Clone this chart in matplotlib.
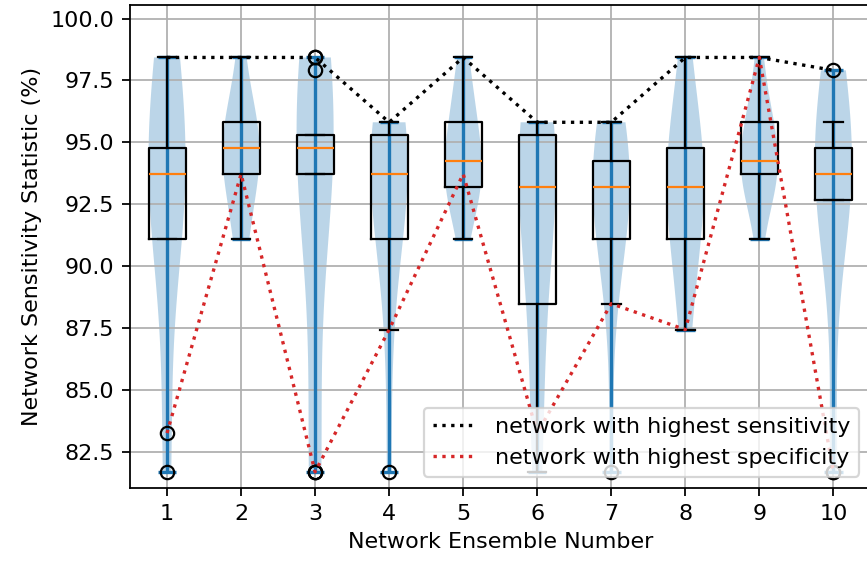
import numpy as np
import matplotlib
matplotlib.use("Agg")
import matplotlib.pyplot as plt

# sensitivity (%) of each network in the ten ensembles
ens_1 = [81.68, 83.25, 91.10, 91.10, 92.67, 93.19, 93.72, 94.24, 94.76, 94.76, 97.91, 98.43, 98.43]
ens_2 = [91.10, 91.10, 92.67, 93.72, 93.72, 93.72, 94.76, 94.76, 95.29, 95.81, 95.81, 96.86, 98.43]
ens_3 = [81.68, 81.68, 81.68, 93.72, 93.72, 94.24, 94.76, 94.76, 95.29, 95.29, 97.91, 98.43, 98.43]
ens_4 = [81.68, 87.43, 91.10, 91.10, 92.67, 93.19, 93.72, 94.24, 94.76, 95.29, 95.81, 95.81, 95.81]
ens_5 = [91.10, 92.67, 93.19, 93.19, 93.19, 93.72, 94.24, 94.76, 95.29, 95.81, 96.34, 97.38, 98.43]
ens_6 = [81.68, 83.25, 87.43, 88.48, 91.10, 92.67, 93.19, 93.72, 94.76, 95.29, 95.29, 95.81, 95.81]
ens_7 = [81.68, 88.48, 91.10, 91.10, 92.15, 92.67, 93.19, 93.72, 94.24, 94.24, 94.76, 95.29, 95.81]
ens_8 = [87.43, 88.48, 90.58, 91.10, 92.15, 92.67, 93.19, 93.72, 94.24, 94.76, 95.81, 96.86, 98.43]
ens_9 = [91.10, 92.67, 93.19, 93.72, 93.72, 93.72, 94.24, 94.76, 95.29, 95.81, 95.81, 96.86, 98.43]
ens_10 = [81.68, 81.68, 92.67, 92.67, 93.19, 93.72, 93.72, 94.24, 94.76, 94.76, 95.29, 95.81, 97.91]

ensembles = [ens_1, ens_2, ens_3, ens_4, ens_5, ens_6, ens_7, ens_8, ens_9, ens_10]
ens_numbers = np.arange(1, 11)

# sensitivity of the network with highest sensitivity / highest specificity
best_sens = [98.43, 98.43, 98.43, 95.81, 98.43, 95.81, 95.81, 98.43, 98.43, 97.91]
best_spec = [83.25, 93.72, 81.68, 87.43, 93.72, 83.25, 88.48, 87.43, 98.43, 81.68]

fig = plt.figure(figsize=(867 / 160, 562 / 160), dpi=160)
ax = fig.add_axes([130 / 867, 74 / 562, 740.4 / 867, 483 / 562])

ax.violinplot(ensembles, positions=ens_numbers, bw_method=0.75)
ax.boxplot(ensembles, positions=ens_numbers)
ax.plot(ens_numbers, best_sens, 'k:', label='network with highest sensitivity')
ax.plot(ens_numbers, best_spec, 'C3:', label='network with highest specificity')

ax.set_xlim(0.5, 10.5)
ax.set_ylim(81.03, 100.55)
ax.set_xlabel('Network Ensemble Number')
ax.set_ylabel('Network Sensitivity Statistic (%)')
ax.grid(True)
ax.legend(loc='lower right')

fig.savefig('out.png', dpi=160)
